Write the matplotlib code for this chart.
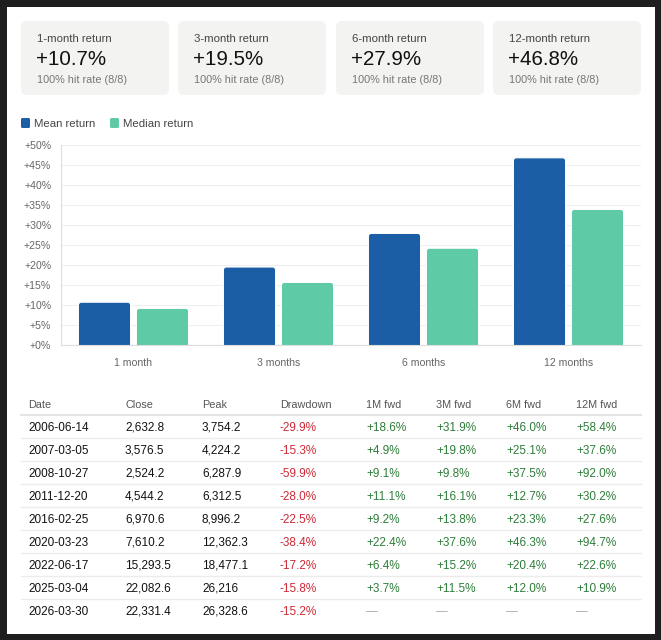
import matplotlib
matplotlib.use("Agg")
import matplotlib.pyplot as plt
from matplotlib.patches import FancyBboxPatch, Rectangle

plt.rcParams['font.family'] = ['Liberation Sans', 'DejaVu Sans']

# summary cards
card_titles = ['1-month return', '3-month return', '6-month return', '12-month return']
card_values = ['+10.7%', '+19.5%', '+27.9%', '+46.8%']
card_hits = ['100% hit rate (8/8)'] * 4

# bar chart
horizons = ['1 month', '3 months', '6 months', '12 months']
mean_ret = [10.7, 19.5, 27.9, 46.8]
median_ret = [9.15, 15.65, 24.2, 33.9]

# table
headers = ['Date', 'Close', 'Peak', 'Drawdown', '1M fwd', '3M fwd', '6M fwd', '12M fwd']
dates = ['2006-06-14', '2007-03-05', '2008-10-27', '2011-12-20', '2016-02-25',
         '2020-03-23', '2022-06-17', '2025-03-04', '2026-03-30']
closes = ['2,632.8', '3,576.5', '2,524.2', '4,544.2', '6,970.6',
          '7,610.2', '15,293.5', '22,082.6', '22,331.4']
peaks = ['3,754.2', '4,224.2', '6,287.9', '6,312.5', '8,996.2',
         '12,362.3', '18,477.1', '26,216', '26,328.6']
drawdowns = ['-29.9%', '-15.3%', '-59.9%', '-28.0%', '-22.5%',
             '-38.4%', '-17.2%', '-15.8%', '-15.2%']
fwd_1m = ['+18.6%', '+4.9%', '+9.1%', '+11.1%', '+9.2%', '+22.4%', '+6.4%', '+3.7%', None]
fwd_3m = ['+31.9%', '+19.8%', '+9.8%', '+16.1%', '+13.8%', '+37.6%', '+15.2%', '+11.5%', None]
fwd_6m = ['+46.0%', '+25.1%', '+37.5%', '+12.7%', '+23.3%', '+46.3%', '+20.4%', '+12.0%', None]
fwd_12m = ['+58.4%', '+37.6%', '+92.0%', '+30.2%', '+27.6%', '+94.7%', '+22.6%', '+10.9%', None]

MEAN_C = '#1b5ea5'
MED_C = '#5ecba6'
W, H = 661, 640

fig = plt.figure(figsize=(W / 100, H / 100), dpi=100)
fig.patch.set_facecolor('#1e1e1e')

# background canvas in pixel coords
bg = fig.add_axes([0, 0, 1, 1])
bg.set_xlim(0, W)
bg.set_ylim(H, 0)
bg.axis('off')
bg.add_patch(Rectangle((7, 7), 648, 627, facecolor='white', edgecolor='none'))

# cards
card_x = [21, 178, 336, 493]
for i in range(4):
    x0 = card_x[i]
    bg.add_patch(FancyBboxPatch((x0, 21), 148, 74, boxstyle='round,pad=0,rounding_size=6',
                                facecolor='#f3f3f2', edgecolor='none'))
    bg.text(x0 + 16, 42, card_titles[i], fontsize=8.2, color='#444444', va='baseline')
    bg.text(x0 + 15, 65, card_values[i], fontsize=14.8, color='#111111', va='baseline')
    bg.text(x0 + 16, 83, card_hits[i], fontsize=7.8, color='#777777', va='baseline')

# legend
bg.add_patch(FancyBboxPatch((21, 118), 9, 10, boxstyle='round,pad=0,rounding_size=1.5',
                            facecolor=MEAN_C, edgecolor='none'))
bg.text(34, 127, 'Mean return', fontsize=8.2, color='#444444', va='baseline')
bg.add_patch(FancyBboxPatch((110, 118), 9, 10, boxstyle='round,pad=0,rounding_size=1.5',
                            facecolor=MED_C, edgecolor='none'))
bg.text(123, 127, 'Median return', fontsize=8.2, color='#444444', va='baseline')

# bar chart
ax = fig.add_axes([61 / W, (H - 345) / H, 580 / W, 200 / H])
ax.set_facecolor('none')
xs = list(range(len(horizons)))
b1 = ax.bar([x - 0.2 for x in xs], mean_ret, width=0.36, color=MEAN_C, zorder=3)
b2 = ax.bar([x + 0.2 for x in xs], median_ret, width=0.36, color=MED_C, zorder=3)
ax.set_xlim(-0.5, 3.5)
ax.set_ylim(0, 50)

# round the top corners of the bars
aspect = (50 / 200) / (4 / 580)
for bars in (b1, b2):
    for r in bars:
        x, w, h = r.get_x(), r.get_width(), r.get_height()
        r.set_visible(False)
        p = FancyBboxPatch((x, -1), w, h + 1, boxstyle='round,pad=0,rounding_size=0.02',
                           mutation_aspect=aspect, facecolor=r.get_facecolor(),
                           edgecolor='white', linewidth=0.8, zorder=3)
        ax.add_patch(p)

ax.set_yticks(range(0, 51, 5))
ax.set_yticklabels(['+%d%%' % v for v in range(0, 51, 5)])
ax.set_xticks(xs)
ax.set_xticklabels(horizons)
ax.tick_params(axis='both', length=0, labelsize=7.6, labelcolor='#666666')
ax.tick_params(axis='y', pad=7)
ax.tick_params(axis='x', pad=9)
ax.grid(axis='y', color='#efefef', linewidth=0.8, zorder=0)
for s in ['top', 'right']:
    ax.spines[s].set_visible(False)
for s in ['left', 'bottom']:
    ax.spines[s].set_color('#dddddd')
    ax.spines[s].set_linewidth(0.8)
    ax.spines[s].set_zorder(4)

# table
col_x = [28, 125, 202, 280, 366, 436, 506, 576]
bg.plot([21, 641], [415, 415], color='#e4e4e4', linewidth=1.5)
for j, h in enumerate(headers):
    bg.text(col_x[j], 407.5, h, fontsize=7.8, color='#555555', va='baseline')

row_y0 = 426.5
row_h = 23
fwd_cols = [fwd_1m, fwd_3m, fwd_6m, fwd_12m]
for i in range(len(dates)):
    y = row_y0 + i * row_h
    yb = y + 4.3
    if i < len(dates) - 1:
        bg.plot([21, 641], [y + 11.5, y + 11.5], color='#ececec', linewidth=1)
    bg.text(col_x[0], yb, dates[i], fontsize=8.5, color='#111111', va='baseline')
    bg.text(col_x[1], yb, closes[i], fontsize=8.5, color='#111111', va='baseline')
    bg.text(col_x[2], yb, peaks[i], fontsize=8.5, color='#111111', va='baseline')
    bg.text(col_x[3], yb, drawdowns[i], fontsize=8.5, color='#cc2a36', va='baseline')
    for k, col in enumerate(fwd_cols):
        v = col[i]
        if v is None:
            bg.text(col_x[4 + k], yb, '\u2014', fontsize=8.5, color='#aaaaaa', va='baseline')
        else:
            bg.text(col_x[4 + k], yb, v, fontsize=8.5, color='#2e7d3a', va='baseline')

fig.savefig('out.png', dpi=100, facecolor=fig.get_facecolor())
